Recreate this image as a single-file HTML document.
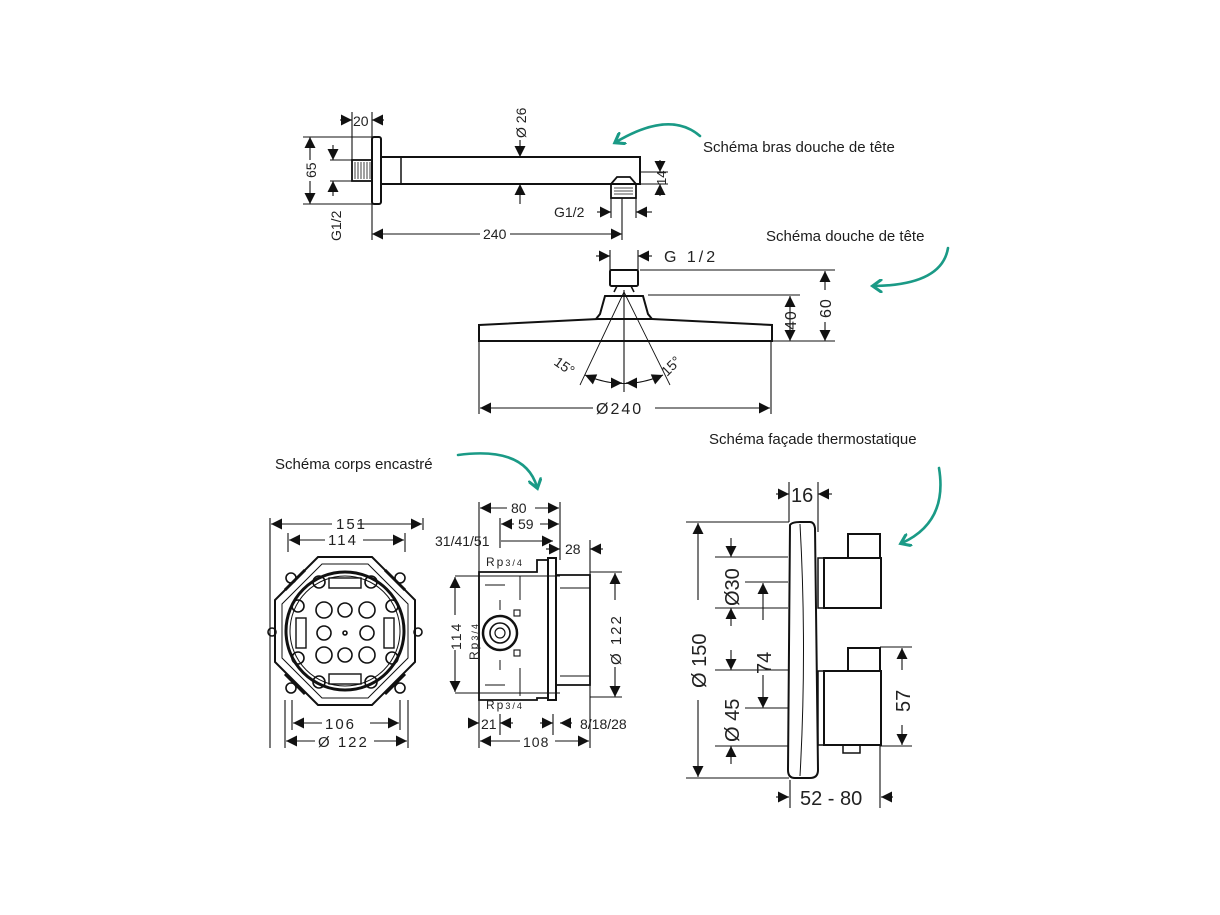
<!DOCTYPE html>
<html><head><meta charset="utf-8"><style>
html,body{margin:0;padding:0;background:#fff;}
svg{display:block;}
text{font-family:"Liberation Sans",sans-serif;fill:#222;}
.t{font-size:14px;}
.lbl{font-size:15px;fill:#1c1c1c;}
</style></head><body>
<svg width="1220" height="915" viewBox="0 0 1220 915" xmlns="http://www.w3.org/2000/svg">
<defs>
<marker id="a" viewBox="0 0 10 10" refX="10" refY="5" markerWidth="12" markerHeight="11" markerUnits="userSpaceOnUse" orient="auto-start-reverse"><path d="M0,0L10,5L0,10z" fill="#111"/></marker>
<marker id="g" viewBox="0 0 10 10" refX="6" refY="5" markerWidth="14" markerHeight="14" markerUnits="userSpaceOnUse" orient="auto"><path d="M0,0L7,5L0,10" fill="none" stroke="#1a9a86" stroke-width="2.2" stroke-linecap="round"/></marker>
</defs>
<g stroke="#111" stroke-width="1.1" fill="none">

<!-- ===== ARM ===== -->
<rect x="372" y="137" width="9" height="67" rx="2" stroke-width="2"/>
<rect x="352" y="160" width="20" height="21" stroke-width="1.8"/>
<path d="M355,162v17M358,162v17M361,162v17M364,162v17M367,162v17M370,162v17" stroke-width="0.8"/>
<path d="M381,157H640V184H381" stroke-width="2"/>
<path d="M401,157V184" stroke-width="1.5"/>
<path d="M611,184l6,-7h13l6,7" stroke-width="1.8"/>
<rect x="611" y="184" width="25" height="14" stroke-width="1.8"/>
<path d="M614,188h19M614,191h19M614,194h19" stroke-width="0.7"/>
<path d="M352,112V160M372,112V137M303,137H372M303,204H372M330,160H352M330,181H352M372,204V240M622,198V240M611,198V218M636,198V218M640,172H668M636,184H668"/>
<path d="M340,120H352" marker-end="url(#a)"/><path d="M384,120H372" marker-end="url(#a)"/>
<path d="M310,160V137" marker-end="url(#a)"/><path d="M310,181V204" marker-end="url(#a)"/>
<path d="M333,145V160" marker-end="url(#a)"/><path d="M333,196V181" marker-end="url(#a)"/>
<path d="M520,140V157" marker-end="url(#a)"/><path d="M520,204V184" marker-end="url(#a)"/>
<path d="M660,160V172" marker-end="url(#a)"/><path d="M660,196V184" marker-end="url(#a)"/>
<path d="M597,212H611" marker-end="url(#a)"/><path d="M652,212H636" marker-end="url(#a)"/>
<path d="M372,234H480M510,234H622" marker-start="url(#a)" marker-end="url(#a)"/>

<!-- ===== HEAD ===== -->
<path d="M610,250V276M638,250V276"/>
<path d="M596,256H610" marker-end="url(#a)"/><path d="M652,256H638" marker-end="url(#a)"/>
<rect x="610" y="270" width="28" height="16" rx="1.5" stroke-width="2"/>
<path d="M614,292l3,-6h14l3,6" stroke-width="1.6"/>
<path d="M605,296h38l5,18l4,5h-56l4,-5z" stroke-width="2" fill="#fff"/>
<path d="M479,325L598,319H652L772,325V341H479Z" stroke-width="2" fill="#fff"/>
<path d="M624,290V392"/>
<path d="M624,292L580,385M624,292L670,385" stroke-width="0.9"/>
<path d="M585,375Q624,392 663,375" marker-start="url(#a)" marker-end="url(#a)"/>
<path d="M614,383H622" marker-end="url(#a)"/><path d="M634,383H626" marker-end="url(#a)"/>
<path d="M479,341V414M771,341V414"/>
<path d="M480,408H593M655,408H770" marker-start="url(#a)" marker-end="url(#a)"/>
<path d="M640,270H835M648,295H800M772,341H835"/>
<path d="M790,296V341" marker-start="url(#a)" marker-end="url(#a)"/>
<path d="M825,271V290M825,322V341" marker-start="url(#a)" marker-end="url(#a)"/>

<!-- ===== BODY TOP VIEW ===== -->
<path d="M270,518V748M423,518V530M288,533V552M405,533V552M292,700V730M400,700V730M285,700V748M408,700V748"/>
<path d="M271,524H332M357,524H422" marker-start="url(#a)" marker-end="url(#a)"/>
<path d="M289,540H325M363,540H404" marker-start="url(#a)" marker-end="url(#a)"/>
<path d="M293,723H322M370,723H399" marker-start="url(#a)" marker-end="url(#a)"/>
<path d="M286,741H315M374,741H407" marker-start="url(#a)" marker-end="url(#a)"/>
<polygon points="318,557 372,557 415,600 415,662 372,705 318,705 275,662 275,600" stroke-width="2"/>
<polygon points="322,564 368,564 408,604 408,658 368,698 322,698 282,658 282,604" stroke-width="1"/>
<circle cx="345" cy="631" r="59" stroke-width="3"/>
<circle cx="345" cy="631" r="55" stroke-width="1"/>
<g stroke-width="1.6">
<circle cx="324" cy="610" r="8"/><circle cx="345" cy="610" r="7"/><circle cx="367" cy="610" r="8"/>
<circle cx="324" cy="633" r="7"/><circle cx="345" cy="633" r="2"/><circle cx="367" cy="633" r="7"/>
<circle cx="324" cy="655" r="8"/><circle cx="345" cy="655" r="7"/><circle cx="367" cy="655" r="8"/>
<circle cx="298" cy="606" r="6"/><circle cx="392" cy="606" r="6"/><circle cx="298" cy="658" r="6"/><circle cx="392" cy="658" r="6"/>
<circle cx="319" cy="582" r="6"/><circle cx="371" cy="582" r="6"/><circle cx="319" cy="682" r="6"/><circle cx="371" cy="682" r="6"/>
<circle cx="291" cy="578" r="5"/><circle cx="400" cy="578" r="5"/><circle cx="291" cy="688" r="5"/><circle cx="400" cy="688" r="5"/>
<circle cx="272" cy="632" r="4"/><circle cx="418" cy="632" r="4"/>
</g>
<rect x="329" y="578" width="32" height="10" stroke-width="1.4"/>
<rect x="329" y="674" width="32" height="10" stroke-width="1.4"/>
<rect x="296" y="618" width="10" height="30" stroke-width="1.4"/>
<rect x="384" y="618" width="10" height="30" stroke-width="1.4"/>
<path d="M285,590L305,570M405,590L385,570M285,674L305,694M405,674L385,694" stroke-width="3"/>

<!-- ===== BODY SIDE VIEW ===== -->
<path d="M479,502V748M560,502V560M500,518V548M590,540V748M500,714V735M553,714V735M455,576H560M455,693H560"/>
<path d="M480,508H507M535,508H559" marker-start="url(#a)" marker-end="url(#a)"/>
<path d="M501,524H514M540,524H559" marker-start="url(#a)" marker-end="url(#a)"/>
<path d="M501,541H553" marker-end="url(#a)"/>
<path d="M546,549H560" marker-end="url(#a)"/><path d="M603,549H590" marker-end="url(#a)"/>
<path d="M455,577V615M455,650V692" marker-start="url(#a)" marker-end="url(#a)"/>
<path d="M615,573V600M615,667V697" marker-start="url(#a)" marker-end="url(#a)"/>
<path d="M590,572H622M590,697H622"/>
<path d="M468,723H479" marker-end="url(#a)"/><path d="M513,723H500" marker-end="url(#a)"/>
<path d="M540,723H553" marker-end="url(#a)"/><path d="M572,723H560" marker-end="url(#a)"/>
<path d="M480,741H520M555,741H589" marker-start="url(#a)" marker-end="url(#a)"/>
<path d="M479,572H537V560H548V698H537V700H479Z" stroke-width="1.8"/>
<rect x="548" y="558" width="8" height="142" stroke-width="2"/>
<path d="M556,575H590V685H556" stroke-width="1.8"/>
<path d="M560,588H590M560,676H590" stroke-width="1"/>
<path d="M520,576V600M520,668V696M485,585h20M485,685h20M500,600V610M500,660V670" stroke-width="1"/>
<circle cx="500" cy="633" r="17" stroke-width="2.5"/>
<circle cx="500" cy="633" r="10" stroke-width="1.6"/>
<circle cx="500" cy="633" r="5" stroke-width="1.2"/>
<rect x="514" y="610" width="6" height="6"/><rect x="514" y="650" width="6" height="6"/>

<!-- ===== THERMOSTAT ===== -->
<path d="M789,482V522M818,482V532M686,522H789M686,778H789M715,557H788M715,608H788M745,582H788M715,670H788M745,708H788M715,746H788M880,647H912M880,746H912M790,780V808M880,746V808"/>
<path d="M776,494H789" marker-end="url(#a)"/><path d="M832,494H818" marker-end="url(#a)"/>
<path d="M698,523V600M698,700V777" marker-start="url(#a)" marker-end="url(#a)"/>
<path d="M731,538V557" marker-end="url(#a)"/><path d="M731,626V608" marker-end="url(#a)"/>
<path d="M731,650V670" marker-end="url(#a)"/><path d="M731,764V746" marker-end="url(#a)"/>
<path d="M763,620V583" marker-end="url(#a)"/><path d="M763,675V708" marker-end="url(#a)"/>
<path d="M902,670V648" marker-end="url(#a)"/><path d="M902,725V745" marker-end="url(#a)"/>
<path d="M776,797H789" marker-end="url(#a)"/><path d="M893,797H881" marker-end="url(#a)"/>
<path d="M790,525Q792,522 800,522H810Q814,522 815,528L818,770Q818,778 810,778H795Q788,778 788,770Z" stroke-width="2" fill="#fff"/>
<path d="M800,524Q807,650 800,776" stroke-width="1"/>
<rect x="818" y="558" width="6" height="50" stroke-width="1.5"/>
<rect x="824" y="558" width="57" height="50" stroke-width="2"/>
<path d="M848,558V534H880V558" stroke-width="2"/>
<rect x="818" y="671" width="6" height="74" stroke-width="1.5"/>
<rect x="824" y="671" width="57" height="74" stroke-width="2"/>
<path d="M848,671V648H880V671" stroke-width="2"/>
<rect x="843" y="745" width="17" height="8" stroke-width="1.5"/>
</g>

<g class="t">
<text x="353" y="126" font-size="14">20</text>
<text transform="translate(526,138) rotate(-90)" font-size="14">Ø 26</text>
<text transform="translate(316,178) rotate(-90)">65</text>
<text transform="translate(341,241) rotate(-90)">G1/2</text>
<text transform="translate(666,185) rotate(-90)" font-size="13">14</text>
<text x="554" y="217">G1/2</text>
<text x="483" y="239">240</text>
<text x="664" y="262" font-size="16" letter-spacing="3">G 1/2</text>
<text transform="translate(796,330) rotate(-90)" font-size="16" letter-spacing="1">40</text>
<text transform="translate(831,318) rotate(-90)" font-size="16" letter-spacing="1">60</text>
<text transform="translate(553,364) rotate(35)" font-size="14">15°</text>
<text transform="translate(667,377) rotate(-45)" font-size="14">15°</text>
<text x="596" y="414" font-size="16" letter-spacing="2">Ø240</text>
<text x="336" y="529" font-size="15" letter-spacing="2">151</text>
<text x="328" y="545" font-size="15" letter-spacing="2">114</text>
<text x="325" y="729" font-size="15" letter-spacing="2">106</text>
<text x="318" y="747" font-size="15" letter-spacing="2">Ø 122</text>
<text x="511" y="513" font-size="14">80</text>
<text x="518" y="529" font-size="14">59</text>
<text x="435" y="546" font-size="14">31/41/51</text>
<text x="565" y="554" font-size="14">28</text>
<text x="486" y="566" font-size="12" letter-spacing="2">Rp<tspan font-size="9">3/4</tspan></text>
<text x="486" y="709" font-size="12" letter-spacing="2">Rp<tspan font-size="9">3/4</tspan></text>
<text transform="translate(461,650) rotate(-90)" font-size="14" letter-spacing="2">114</text>
<text transform="translate(478,660) rotate(-90)" font-size="12" letter-spacing="2">Rp<tspan font-size="9">3/4</tspan></text>
<text transform="translate(621,665) rotate(-90)" font-size="15" letter-spacing="2">Ø 122</text>
<text x="481" y="729" font-size="14">21</text>
<text x="580" y="729" font-size="14">8/18/28</text>
<text x="523" y="747" font-size="14" letter-spacing="1">108</text>
<text x="791" y="502" font-size="20">16</text>
<text transform="translate(706,688) rotate(-90)" font-size="20">Ø 150</text>
<text transform="translate(739,606) rotate(-90)" font-size="20">Ø30</text>
<text transform="translate(771,674) rotate(-90)" font-size="20">74</text>
<text transform="translate(739,742) rotate(-90)" font-size="20">Ø 45</text>
<text transform="translate(910,712) rotate(-90)" font-size="20">57</text>
<text x="800" y="805" font-size="20">52 - 80</text>
</g>
<text class="lbl" x="703" y="152">Schéma bras douche de tête</text>
<text class="lbl" x="766" y="241">Schéma douche de tête</text>
<text class="lbl" x="275" y="469">Schéma corps encastré</text>
<text class="lbl" x="709" y="444">Schéma façade thermostatique</text>
<g fill="none" stroke="#1a9a86" stroke-width="2.6" stroke-linecap="round">
<path d="M700,136Q670,110 616,142" marker-end="url(#g)"/>
<path d="M948,248Q942,285 874,286" marker-end="url(#g)"/>
<path d="M458,455Q525,446 537,487" marker-end="url(#g)"/>
<path d="M939,468Q948,522 902,543" marker-end="url(#g)"/>
</g>
</svg>
</body></html>
